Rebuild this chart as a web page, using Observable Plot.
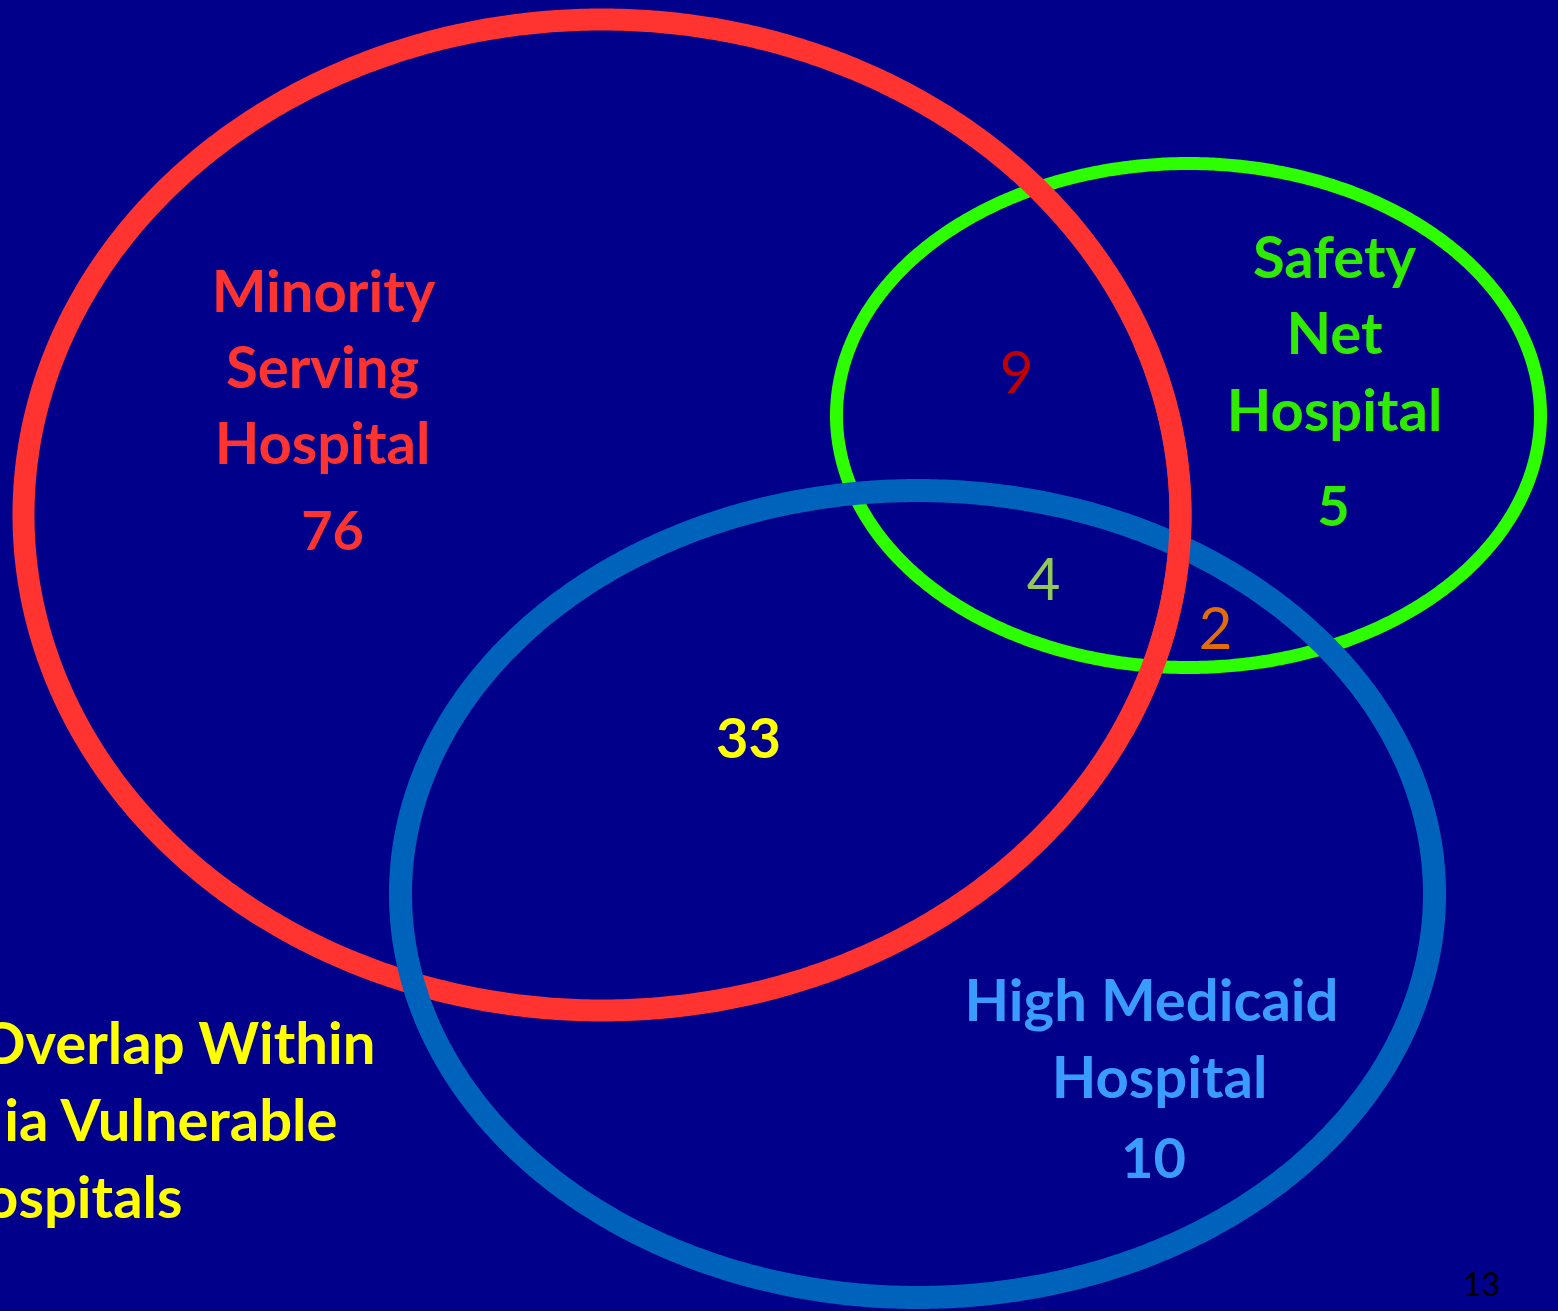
<!DOCTYPE html>
<html>
<head>
<meta charset="utf-8">
<script src="https://cdn.jsdelivr.net/npm/d3@7"></script>
<script src="https://cdn.jsdelivr.net/npm/@observablehq/plot@0.6"></script>
<style>
  html, body { margin: 0; padding: 0; background: #00008B; overflow: hidden; }
  #chart svg { display: block; }
</style>
</head>
<body>
<div id="chart"></div>
<script>
// ---- Data ----
const setNames = ["Minority Serving Hospital", "Safety Net Hospital", "High Medicaid Hospital"];
const setLabelLines = [["Minority", "Serving", "Hospital"], ["Safety", "Net", "Hospital"], ["High Medicaid", "Hospital"]];
const onlyCounts = [76, 5, 10];
const overlapRegions = ["Minority + Safety Net", "All three", "Safety Net + High Medicaid", "Minority + High Medicaid"];
const overlapCounts = [9, 4, 2, 33];
const captionLines = ["Overlap Within", "ia Vulnerable", "ospitals"];
const pageNumber = "13";

// ---- Layout / styles (pixel coordinates of the slide) ----
const W = 1558, H = 1311;
const ellipses = [
  {cx: 601.5, cy: 514.5, rx: 578.5, ry: 495.5, color: "#FF3430", width: 22},
  {cx: 1188, cy: 415, rx: 352, ry: 252, color: "#2EFF00", width: 13},
  {cx: 917, cy: 893.5, rx: 517, ry: 403.5, color: "#0063BB", width: 23}
];
const setLabelColors = ["#FF3430", "#2EEB00", "#3A9CFF"];
const setLabelPos = [
  {x: [323, 322, 322], y: [311, 387, 463], cx: 332, cy: 549, countSize: 54},
  {x: [1334, 1334, 1334], y: [277, 353, 430], cx: 1333, cy: 525, countSize: 56},
  {x: [1151, 1159], y: [1020, 1097], cx: 1153, cy: 1177, countSize: 56}
];
const overlapPos = [
  {x: 1016, y: 392, color: "#C00000", weight: "normal", size: 58},
  {x: 1043, y: 599, color: "#92C75A", weight: "normal", size: 58},
  {x: 1215, y: 648, color: "#E36C09", weight: "normal", size: 58},
  {x: 748, y: 757, color: "#FFFF00", weight: "bold", size: 56}
];
const captionPos = {x: [375, 337, 182], y: [1063, 1140, 1217]};

// ellipse outlines (geometry from centre and radii)
function outline(e, i, t0 = 0, t1 = 2 * Math.PI, n = 720) {
  const pts = [];
  for (let k = 0; k <= n; k++) {
    const t = t0 + (t1 - t0) * k / n;
    pts.push({set: setNames[i], x: e.cx + e.rx * Math.cos(t), y: e.cy + e.ry * Math.sin(t)});
  }
  return pts;
}

const texts = [];
setLabelLines.forEach((lines, i) => {
  lines.forEach((s, j) => texts.push({text: s, x: setLabelPos[i].x[j], y: setLabelPos[i].y[j], fill: setLabelColors[i], size: 58, weight: "bold", anchor: "middle"}));
  texts.push({text: String(onlyCounts[i]), x: setLabelPos[i].cx, y: setLabelPos[i].cy, fill: setLabelColors[i], size: setLabelPos[i].countSize, weight: "bold", anchor: "middle"});
});
overlapCounts.forEach((v, i) => texts.push({text: String(v), x: overlapPos[i].x, y: overlapPos[i].y, fill: overlapPos[i].color, size: overlapPos[i].size, weight: overlapPos[i].weight, anchor: "middle"}));
captionLines.forEach((s, j) => texts.push({text: s, x: captionPos.x[j], y: captionPos.y[j], fill: "#FFFF00", size: 58, weight: "bold", anchor: "end"}));
texts.push({text: pageNumber, x: 1481, y: 1295, fill: "#000000", size: 32, weight: "normal", anchor: "middle"});

const lineMark = (e, i, t0, t1) => Plot.line(outline(e, i, t0, t1), {x: "x", y: "y", stroke: e.color, strokeWidth: e.width, curve: "linear", strokeLinejoin: "round"});

const textMarks = ["bold", "normal"].flatMap(w => ["middle", "end"].flatMap(a =>
  [...new Set(texts.map(d => d.size))].map(sz => {
    const sub = texts.filter(d => d.weight === w && d.anchor === a && d.size === sz);
    return sub.length ? Plot.text(sub, {x: "x", y: "y", text: "text", fill: "fill", fontSize: sz, fontWeight: w, textAnchor: a, lineAnchor: "bottom"}) : null;
  }).filter(Boolean)));

const chart = Plot.plot({
  width: W, height: H,
  margin: 0,
  style: {background: "#00008B", fontFamily: "Lato, 'Open Sans', sans-serif"},
  x: {domain: [0, W], range: [0, W], axis: null},
  y: {domain: [0, H], range: [0, H], axis: null},
  color: {type: "identity"},
  marks: [
    lineMark(ellipses[1], 1),
    lineMark(ellipses[0], 0),
    lineMark(ellipses[2], 2),
    lineMark(ellipses[0], 0, -0.35, 0.45),
    ...textMarks
  ]
});
document.getElementById("chart").appendChild(chart);
</script>
</body>
</html>
